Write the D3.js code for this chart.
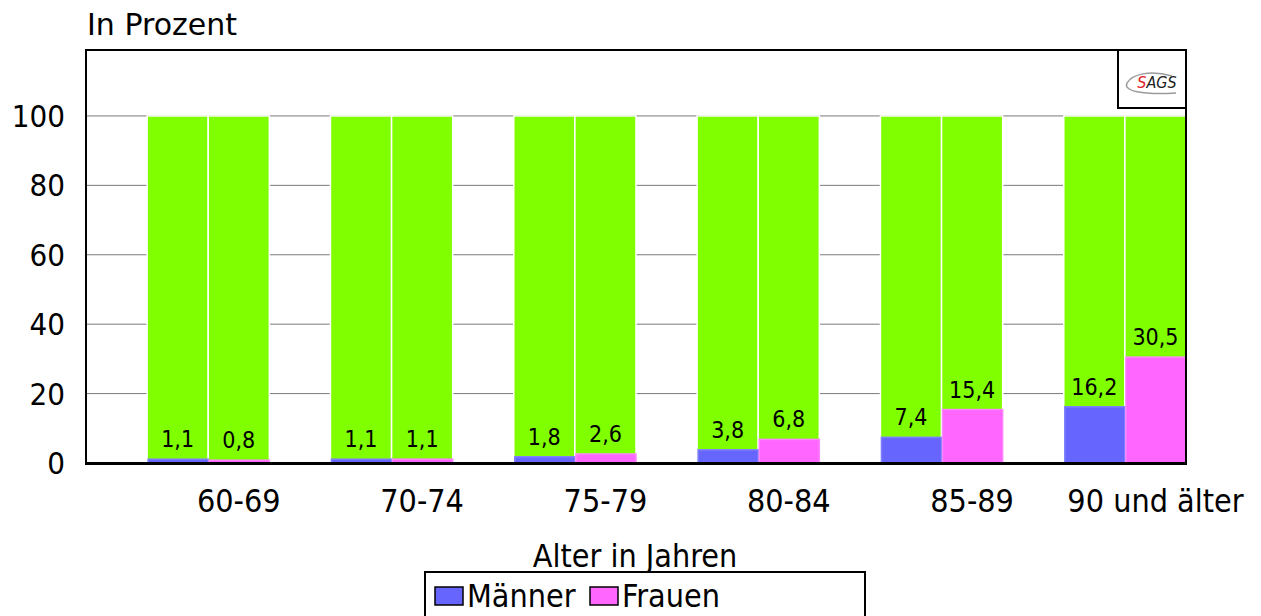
<!DOCTYPE html>
<html>
<head>
<meta charset="utf-8">
<script src="https://cdn.jsdelivr.net/npm/d3@7"></script>
<style>
  html, body { margin: 0; padding: 0; background: #fff; }
  svg { display: block; font-family: "DejaVu Sans Condensed", "DejaVu Sans", Verdana, sans-serif; font-stretch: condensed; }
  .title { font-family: "DejaVu Sans", Verdana, sans-serif; font-stretch: normal; }
</style>
</head>
<body>
<svg id="chart" width="1261" height="616"></svg>
<script>
// Age groups and shares (in percent) per sex
const categories = ["60-69", "70-74", "75-79", "80-84", "85-89", "90 und älter"];
const maenner = [1.1, 1.1, 1.8, 3.8, 7.4, 16.2];
const frauen = [0.8, 1.1, 2.6, 6.8, 15.4, 30.5];
const total = [100, 100, 100, 100, 100, 100];
const series = ["Männer", "Frauen"];
const yTicks = [0, 20, 40, 60, 80, 100];

const colors = { "Männer": "#6666FF", "Frauen": "#FF66FF" };
const strokes = { "Männer": "#8080FF", "Frauen": "#FF85FF" };
const green = "#80FF00";

const svg = d3.select("#chart");
const plot = { left: 86, right: 1186, top: 50, bottom: 463 };

const x0 = d3.scaleBand().domain(categories).range([plot.left, plot.right]);
const bw = x0.bandwidth();
const x1 = d3.scaleBand().domain(series).range([bw / 3, bw]);
const y = d3.scaleLinear().domain([0, 119]).range([plot.bottom, plot.top]);

const fmt = v => String(v).replace(".", ",");

// gridlines
svg.append("g")
  .selectAll("line").data(yTicks).join("line")
  .attr("x1", plot.left).attr("x2", plot.right)
  .attr("y1", d => y(d)).attr("y2", d => y(d))
  .attr("stroke", "#7a7a7a").attr("stroke-width", 1);

// y tick labels
svg.append("g")
  .selectAll("text").data(yTicks).join("text")
  .attr("x", 65).attr("y", d => y(d))
  .attr("text-anchor", "end").attr("dominant-baseline", "central")
  .attr("font-size", 31).text(d => d);

const rows = categories.map((c, i) => ({
  cat: c,
  vals: [
    { s: "Männer", v: maenner[i], t: total[i] },
    { s: "Frauen", v: frauen[i], t: total[i] }
  ]
}));

const groups = svg.append("g").selectAll("g").data(rows).join("g")
  .attr("transform", d => `translate(${x0(d.cat)},0)`);

// 100 % background bars
groups.selectAll("rect.total").data(d => d.vals).join("rect")
  .attr("class", "total")
  .attr("x", d => x1(d.s)).attr("width", x1.bandwidth())
  .attr("y", d => y(d.t)).attr("height", d => y(0) - y(d.t))
  .attr("fill", green).attr("stroke", "#fff").attr("stroke-width", 1.5);

// share bars
groups.selectAll("rect.share").data(d => d.vals).join("rect")
  .attr("class", "share")
  .attr("x", d => x1(d.s) + 1).attr("width", x1.bandwidth() - 1)
  .attr("y", d => y(d.v)).attr("height", d => y(0) - y(d.v))
  .attr("fill", d => colors[d.s]).attr("stroke", d => strokes[d.s]).attr("stroke-width", 1.5);

// value labels
groups.selectAll("text.val").data(d => d.vals).join("text")
  .attr("class", "val")
  .attr("x", d => x1(d.s) + x1.bandwidth() / 2)
  .attr("y", d => y(d.v) - 12)
  .attr("text-anchor", "middle").attr("font-size", 23)
  .text(d => fmt(d.v));

// category labels (under the second bar of each group)
svg.append("g").selectAll("text").data(categories).join("text")
  .attr("x", d => x0(d) + x1("Frauen") + x1.bandwidth() / 2)
  .attr("y", 512)
  .attr("text-anchor", "middle").attr("font-size", 32)
  .text(d => d);

// plot frame
svg.append("path")
  .attr("d", `M${plot.left},${plot.bottom} V${plot.top} H${plot.right} V${plot.bottom}`)
  .attr("fill", "none").attr("stroke", "#000").attr("stroke-width", 2);
svg.append("line")
  .attr("x1", plot.left - 1).attr("x2", plot.right + 1)
  .attr("y1", plot.bottom + 0.5).attr("y2", plot.bottom + 0.5)
  .attr("stroke", "#000").attr("stroke-width", 3);

// axis titles
svg.append("text").attr("class", "title").attr("x", 87).attr("y", 35).attr("font-size", 30).text("In Prozent");
svg.append("text").attr("x", 635).attr("y", 567).attr("text-anchor", "middle")
  .attr("font-size", 32).text("Alter in Jahren");

// logo box
const logo = svg.append("g");
logo.append("rect").attr("x", 1118).attr("y", 50).attr("width", 68).attr("height", 58)
  .attr("fill", "#fff").attr("stroke", "#000").attr("stroke-width", 2);
logo.append("path")
  .attr("d", "M1172,76 C1150,70 1132,74 1127,83 C1123,91 1142,95 1176,93")
  .attr("fill", "none").attr("stroke", "#9a9a9a").attr("stroke-width", 1.5);
const lt = logo.append("text").attr("x", 1157).attr("y", 88).attr("text-anchor", "middle")
  .attr("font-size", 16).attr("font-style", "italic");
lt.append("tspan").attr("fill", "#e0202a").text("S");
lt.append("tspan").attr("fill", "#222").text("AGS");

// legend
const lg = svg.append("g");
lg.append("rect").attr("x", 425).attr("y", 572).attr("width", 440).attr("height", 60)
  .attr("fill", "#fff").attr("stroke", "#000").attr("stroke-width", 2);
const items = [{ s: "Männer", x: 435 }, { s: "Frauen", x: 590 }];
lg.selectAll("rect.sw").data(items).join("rect").attr("class", "sw")
  .attr("x", d => d.x).attr("y", 587).attr("width", 28).attr("height", 18)
  .attr("fill", d => colors[d.s]).attr("stroke", "#000").attr("stroke-width", 1.5);
lg.selectAll("text").data(items).join("text")
  .attr("x", d => d.x + 32).attr("y", 607).attr("font-size", 32)
  .text(d => d.s);
</script>
</body>
</html>
